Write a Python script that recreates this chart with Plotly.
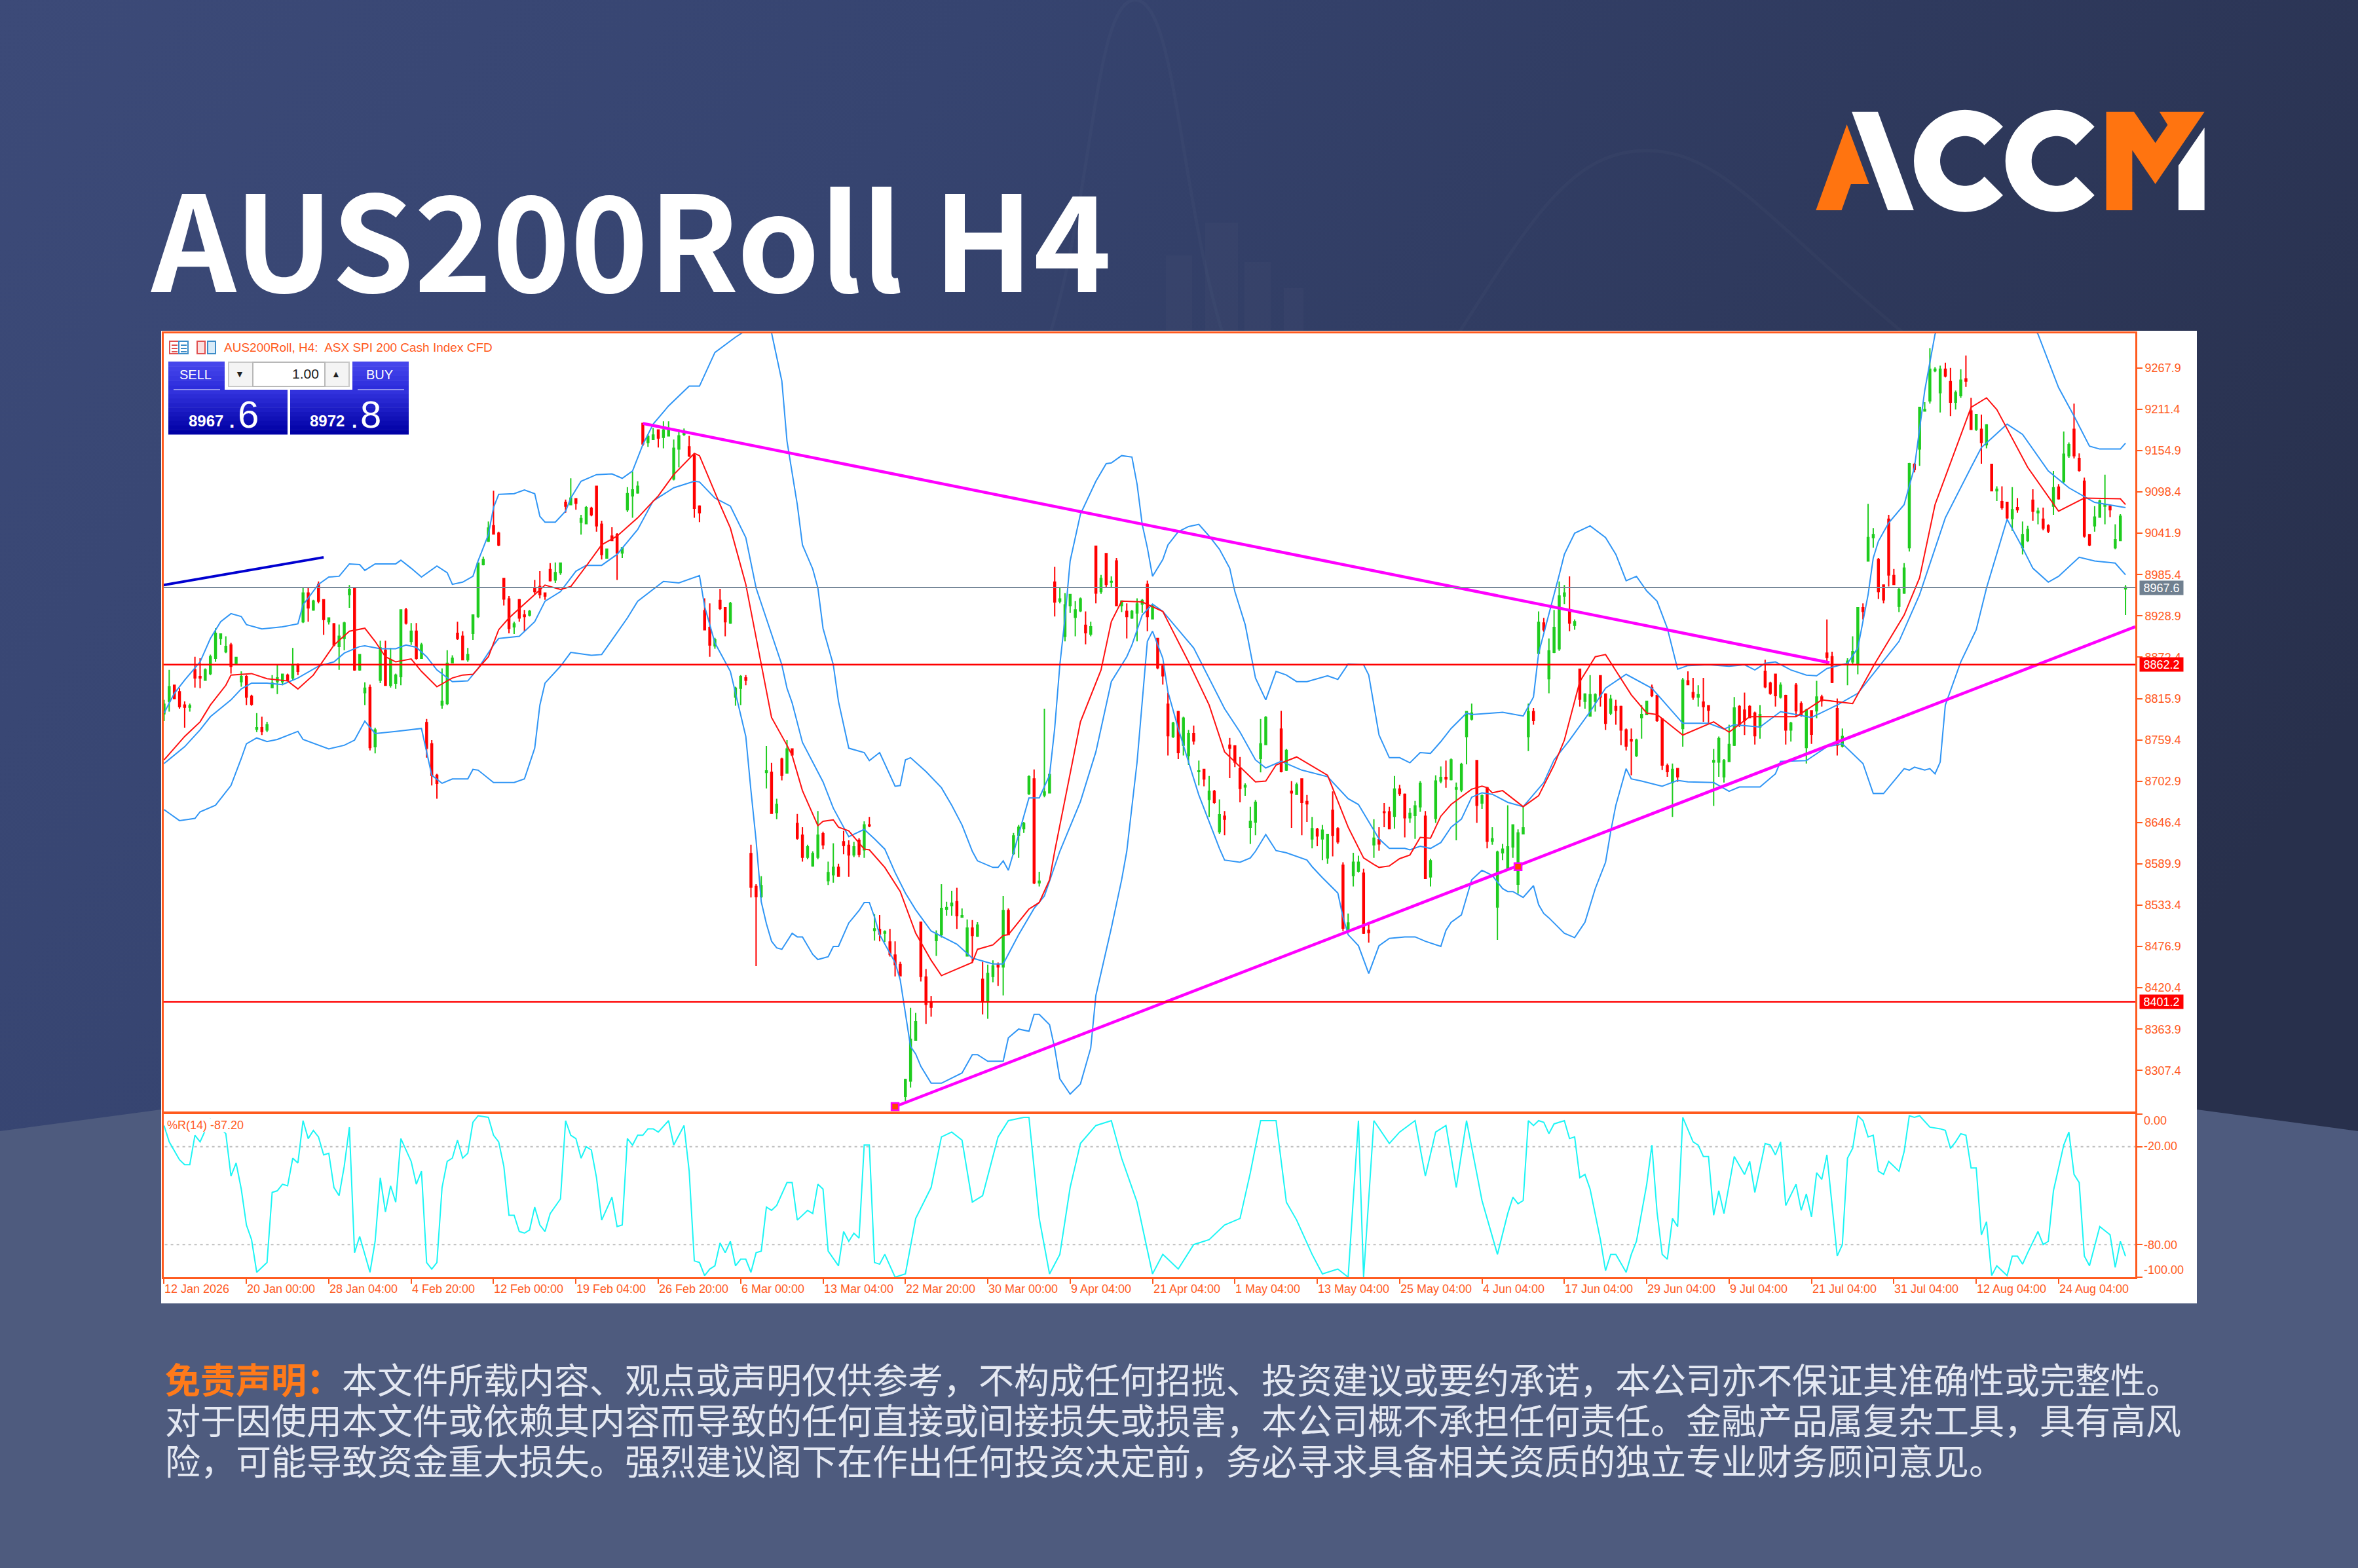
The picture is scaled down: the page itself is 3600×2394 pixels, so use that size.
import base64
import math
import plotly.graph_objects as go

W, H = 3600, 2394

# candles, 10 per row, None where the chart shows no bar
bar_open = [
    8795,8812,8834,8825,8807,8804,8855,8846,8841,8850,
    8871,8898,8880,8889,8864,8839,8846,8819,8774,8776,
    8773,8831,8839,8839,8848,8844,8862,8921,8960,8937,
    8972,8951,8921,8918,8887,8898,8958,8967,8855,8824,
    8831,8750,8841,8882,8834,8837,8846,8937,8894,8908,
    8871,8783,8754,8711,8807,8809,8865,8905,8901,8869,
    8905,8928,8999,9031,9052,9042,8980,8952,8914,8951,
    8930,8930,8966,8969,8960,8992,8978,8988,9084,9081,
    9089,9057,9055,9076,9106,9054,9008,9038,9040,9015,
    9074,9093,9097,9192,9166,9170,9183,9173,9175,9116,
    9157,9177,9160,9148,9079,8936,8913,8888,8950,8940,
    8919,8818,8830,8844,8604,8559,8545,8715,8715,8660,
    8733,8714,8747,8645,8629,8599,8587,8599,8631,8567,
    8575,8585,8620,8615,8602,8622,8609,8643,8499,8500,
    8495,8483,8465,8452,8272,8293,8349,8510,8435,8401,
    8485,8493,8528,8533,8538,8517,8464,8502,8491,8432,
    8402,8436,8452,8449,8526,8604,8629,8638,8686,8706,
    8564,8684,8687,8975,8949,8901,8943,8927,8936,8916,
    8904,9024,8962,9014,8975,9004,8943,8935,8926,8933,
    8945,8972,8925,8898,8860,8808,8764,8798,8752,8738,
    8768,8716,8719,8678,8689,8634,8655,8752,8751,8720,
    8695,8640,8647,8734,8753,None,None,8774,8718,8689,
    8685,8706,8675,8624,8637,8624,8598,8663,8638,8588,
    8501,8574,8580,8577,8499,8616,8623,8661,8661,8655,
    8692,8685,8653,8656,8668,8655,8572,8652,8703,8708,
    8705,8692,8691,8764,8788,8731,8673,8694,8621,8531,
    8605,8583,8613,8562,8631,8764,8798,8878,8919,8843,
    8879,8884,8956,8937,8916,8856,8812,8792,8812,8847,
    8822,8796,8805,8805,8773,8760,8738,8790,8794,8831,
    8820,8788,8724,8701,8720,8775,8840,8824,8818,8811,
    8806,8729,8729,8709,8730,8752,8805,8800,8805,8796,
    8777,8853,8837,8849,8818,8820,8773,8834,8809,8749,
    8799,8799,8818,8878,8873,8802,8751,8864,8866,8862,
    8940,9004,9036,9006,8971,9061,8984,8942,8960,9022,
    9136,9157,9209,9223,9264,9234,9266,9249,9221,9230,
    9253,9209,9184,9184,9163,9136,9100,9085,9084,9062,
    9077,9022,9032,9087,9070,9061,9052,9079,9105,9113,
    9148,9184,9144,9113,9040,9052,9064,9079,9079,9022,9032,8966,
]
bar_high = [
    8814,8855,8834,8830,8812,8809,8873,8871,8857,8876,
    8912,8905,8901,8892,8873,8853,8848,8821,8796,8791,
    8784,8848,8862,8850,8850,8885,8864,8967,8967,8951,
    8976,8951,8927,8919,8917,8921,8971,8968,8876,8838,
    8835,8776,8895,8895,8885,8850,8937,8940,8919,8919,
    8892,8788,8759,8713,8857,8882,8875,8921,8908,8885,
    8931,9001,9010,9058,9100,9044,8980,8956,8921,8952,
    8937,8937,8978,8990,8961,9001,9002,9002,9088,9117,
    9090,9067,9079,9078,9106,9059,9021,9050,9042,9023,
    9105,9126,9113,9193,9177,9186,9184,9195,9195,9170,
    9184,9185,9175,9151,9080,8953,8946,8899,8966,8940,
    8948,8832,8848,8848,8616,8562,8573,8751,8728,8679,
    8735,8759,8747,8658,8640,8616,8607,8662,8634,8593,
    8618,8590,8635,8622,8620,8625,8648,8654,8521,8520,
    8499,8501,8484,8456,8296,8393,8386,8510,8446,8409,
    8499,8562,8538,8553,8557,8529,8514,8513,8510,8456,
    8452,8458,8455,8546,8529,8632,8643,8647,8711,8719,
    8579,8802,8713,8996,8967,8960,8959,8949,8954,8935,
    8921,9024,8985,9014,8983,9008,8950,8946,8937,8953,
    8952,8977,8945,8899,8862,8824,8784,8799,8791,8773,
    8779,8731,8719,8710,8691,8678,8662,8762,8752,8736,
    8700,8668,8677,8788,8792,None,None,8799,8747,8703,
    8701,8706,8684,8654,8639,8643,8631,8689,8640,8592,
    8522,8605,8601,8583,8507,8651,8640,8673,8668,8710,
    8698,8686,8666,8676,8703,8662,8597,8711,8723,8731,
    8734,8701,8728,8798,8809,8731,8685,8695,8640,8608,
    8617,8670,8644,8637,8668,8809,8803,8935,8926,8898,
    8937,8976,8971,8983,8924,8856,8823,8848,8823,8848,
    8823,8821,8814,8806,8775,8775,8761,8807,8812,8835,
    8821,8789,8727,8727,8721,8844,8853,8844,8834,8844,
    8806,8747,8764,8733,8780,8818,8807,8824,8807,8798,
    8807,8869,8839,8850,8838,8821,8784,8837,8812,8802,
    8800,8840,8821,8924,8880,8816,8775,8871,8901,8940,
    8946,9082,9049,9008,8972,9067,8993,8967,9001,9138,
    9138,9214,9221,9295,9269,9271,9275,9268,9237,9266,
    9285,9227,9205,9204,9191,9137,9106,9106,9085,9105,
    9090,9058,9052,9102,9077,9077,9054,9127,9109,9181,
    9166,9219,9151,9118,9041,9079,9088,9122,9081,9054,9068,8971,
]
bar_low = [
    8785,8798,8815,8802,8776,8798,8831,8830,8840,8848,
    8866,8889,8878,8850,8863,8832,8807,8806,8770,8766,
    8770,8830,8822,8834,8840,8841,8848,8919,8921,8936,
    8946,8903,8917,8887,8855,8882,8940,8854,8854,8807,
    8745,8741,8837,8834,8831,8829,8834,8917,8889,8869,
    8870,8735,8697,8679,8802,8807,8864,8896,8869,8866,
    8896,8926,8998,9030,9040,9024,8943,8905,8904,8921,
    8908,8928,8958,8953,8951,8976,8974,8985,9070,9081,
    9074,9040,9054,9065,9044,9006,9007,9031,8978,9008,
    9071,9063,9096,9161,9160,9170,9159,9158,9175,9114,
    9132,9175,9146,9063,9057,8909,8873,8884,8937,8901,
    8918,8806,8807,8834,8544,8450,8543,8693,8658,8651,
    8704,8714,8738,8623,8593,8596,8586,8596,8610,8561,
    8564,8573,8603,8572,8599,8599,8598,8640,8485,8484,
    8483,8463,8436,8436,8264,8284,8349,8429,8371,8381,
    8464,8489,8519,8519,8501,8517,8464,8455,8490,8384,
    8378,8428,8423,8410,8493,8602,8598,8632,8684,8562,
    8559,8681,8686,8928,8946,8894,8933,8901,8934,8890,
    8901,8946,8959,8967,8967,8943,8934,8898,8925,8894,
    8933,8908,8924,8856,8835,8738,8762,8733,8738,8725,
    8753,8697,8696,8654,8672,8631,8629,8707,8722,8674,
    8683,8617,8629,8715,8752,None,None,8715,8717,8639,
    8684,8629,8647,8611,8614,8595,8590,8600,8617,8498,
    8499,8559,8578,8494,8482,8598,8608,8640,8637,8638,
    8683,8626,8646,8624,8661,8570,8559,8646,8700,8694,
    8704,8622,8688,8726,8786,8646,8665,8611,8616,8486,
    8595,8583,8598,8549,8631,8744,8780,8876,8907,8823,
    8878,8881,8945,8908,8910,8805,8802,8791,8798,8805,
    8773,8793,8780,8752,8745,8711,8736,8761,8793,8818,
    8784,8718,8709,8654,8702,8750,8834,8814,8805,8784,
    8782,8669,8709,8701,8729,8751,8777,8766,8789,8753,
    8761,8830,8821,8805,8816,8753,8757,8791,8791,8727,
    8754,8789,8805,8862,8837,8738,8749,8834,8862,8849,
    8924,9003,9022,8952,8946,8969,8972,8934,8959,9017,
    9125,9134,9209,9219,9262,9207,9255,9202,9211,9227,
    9242,9184,9182,9137,9158,9099,9086,9074,9061,9045,
    9070,9013,9030,9059,9054,9046,9042,9067,9088,9111,
    9145,9144,9126,9036,9024,9044,9063,9054,9064,9020,9031,8930,
]
bar_close = [
    8808,8832,8816,8805,8804,8806,8844,8844,8855,8873,
    8905,8904,8887,8860,8872,8846,8818,8808,8776,8771,
    8780,8837,8844,8849,8841,8862,8853,8960,8940,8949,
    8949,8924,8926,8889,8901,8919,8965,8855,8876,8830,
    8749,8773,8885,8834,8869,8848,8937,8919,8908,8871,
    8889,8748,8711,8700,8812,8864,8871,8898,8869,8876,
    8930,9001,9006,9049,9041,9026,8952,8912,8918,8926,
    8928,8935,8962,8958,8956,8977,8988,9001,9079,9090,
    9083,9062,9077,9067,9052,9013,9020,9032,9015,9022,
    9096,9101,9106,9164,9174,9176,9172,9183,9185,9158,
    9175,9179,9148,9076,9070,8910,8889,8896,8939,8921,
    8946,8830,8846,8841,8558,8545,8560,8717,8659,8671,
    8711,8747,8739,8625,8599,8613,8604,8629,8616,8578,
    8585,8573,8615,8602,8613,8603,8643,8642,8501,8494,
    8497,8466,8452,8437,8295,8350,8374,8436,8398,8394,
    8494,8529,8530,8536,8519,8519,8502,8492,8506,8402,
    8440,8450,8449,8526,8493,8628,8640,8645,8709,8564,
    8566,8688,8712,8948,8952,8944,8958,8937,8952,8906,
    8914,8960,8980,8972,8976,8943,8949,8928,8935,8945,
    8950,8928,8942,8858,8847,8765,8782,8742,8789,8768,
    8758,8717,8706,8689,8674,8657,8651,8748,8729,8693,
    8697,8648,8674,8754,8790,None,None,8716,8745,8687,
    8698,8674,8672,8638,8628,8636,8630,8629,8620,8502,
    8509,8592,8592,8495,8496,8625,8617,8660,8638,8692,
    8686,8653,8659,8669,8700,8570,8594,8703,8708,8706,
    8732,8694,8726,8798,8796,8670,8683,8621,8624,8606,
    8610,8613,8643,8632,8639,8798,8786,8920,8910,8881,
    8913,8956,8960,8919,8921,8815,8822,8821,8821,8818,
    8782,8815,8800,8773,8751,8758,8759,8794,8812,8820,
    8786,8725,8716,8719,8709,8841,8835,8818,8821,8805,
    8800,8731,8761,8731,8753,8803,8780,8786,8790,8765,
    8794,8832,8823,8820,8834,8773,8782,8799,8793,8800,
    8767,8818,8813,8872,8838,8752,8764,8867,8880,8940,
    8935,9036,9040,8962,8951,8985,8972,8965,8994,9137,
    9129,9214,9211,9266,9266,9266,9257,9221,9234,9251,
    9250,9184,9204,9166,9190,9100,9102,9077,9063,9074,
    9074,9040,9047,9072,9072,9049,9045,9104,9089,9150,
    9163,9148,9128,9038,9026,9064,9086,9081,9074,9033,9065,8968,
]

# indicators, bar number + value at each bend
upper_bar = [0,2,4,7,9,11,13,15,16,19,23,26,27,30,32,34,36,38,39,41,45,46,48,50,53,55,56,58,60,61,63,64,65,68,70,72,73,74,76,78,79,81,84,87,89,91,93,95,98,102,104,107,111,113,115,116,117,118,120,121,123,124,126,127,128,130,131,133,136,137,139,140,142,143,144,145,148,151,153,155,157,158,161,162,163,164,165,168,170,172,173,174,175,176,178,181,183,184,186,188,189,190,191,192,194,195,197,199,201,203,205,207,208,210,211,212,214,216,218,220,222,226,228,230,233,234,236,238,240,242,244,246,248,250,253,254,260,264,266,267,271,272,274,277,280,282,284,286,288,290,292,294,296,300,304,307,309,311,313,316,319,321,323,327,329,331,332,333,335,338,340,342,344,348,356,361,364,366,368,371,374,376,380,381]
upper_val = [8796,8823,8841,8866,8898,8921,8932,8928,8917,8911,8914,8918,8944,8972,8982,8983,9000,8999,8991,9000,9000,9005,8994,8982,8997,8988,8972,8975,8983,9004,9040,9077,9095,9096,9101,9096,9065,9057,9057,9072,9090,9113,9122,9123,9117,9127,9163,9191,9216,9243,9243,9289,9310,9319,9340,9345,9335,9316,9250,9168,9081,9026,8993,8967,8912,8862,8812,8748,8742,8731,8742,8727,8696,8697,8732,8735,8716,8694,8670,8643,8607,8594,8585,8585,8594,8581,8605,8680,8680,8711,8775,8862,8926,9004,9068,9113,9137,9138,9148,9146,9109,9054,9022,8983,9006,9026,9044,9051,9054,9038,9020,8994,8962,8917,8880,8844,8814,8853,8848,8839,8839,8847,8842,8863,8862,8848,8766,8735,8735,8728,8742,8741,8757,8775,8796,8794,8797,8792,8818,8878,8985,9013,9042,9052,9036,9013,8977,8983,8963,8949,8912,8856,8861,8862,8860,8862,8855,8864,8866,8855,8848,8847,8857,8864,8885,8958,9008,9031,9056,9081,9132,9237,9314,9360,9375,9345,9314,9278,9241,9202,9161,9157,9157,9165]

middle_bar = [0,4,7,9,13,15,17,20,23,26,30,33,35,38,39,42,45,47,49,51,53,56,59,61,64,65,69,72,74,77,80,82,85,88,92,95,99,103,104,107,110,113,115,120,121,122,124,128,130,133,136,138,140,142,144,146,149,154,157,161,163,166,169,171,174,178,181,184,187,188,190,192,194,197,200,206,209,212,214,217,221,226,230,232,236,238,241,242,244,246,248,250,252,254,256,258,261,264,266,268,270,273,277,280,284,289,295,300,303,305,310,314,320,325,329,337,341,346,351,353,358,361,366,370,375,381]
middle_val = [8727,8750,8773,8791,8814,8829,8837,8837,8835,8844,8860,8866,8878,8887,8888,8884,8884,8889,8886,8873,8855,8839,8840,8857,8889,8898,8901,8921,8949,8962,8990,8998,8998,9013,9047,9086,9104,9113,9112,9090,9079,9036,8967,8862,8830,8810,8756,8702,8666,8627,8637,8624,8610,8578,8550,8527,8498,8480,8461,8453,8453,8493,8529,8546,8607,8675,8743,8839,8873,8889,8930,8945,8935,8910,8885,8802,8770,8732,8721,8730,8718,8709,8679,8671,8624,8611,8611,8609,8614,8611,8619,8640,8651,8681,8687,8685,8674,8668,8685,8701,8732,8759,8798,8830,8849,8830,8782,8782,8774,8780,8777,8798,8790,8807,8823,8894,8958,9063,9132,9159,9191,9177,9127,9104,9084,9077]

lower_bar = [0,3,6,7,10,13,15,16,18,20,22,26,27,32,35,37,39,41,45,50,52,54,56,59,60,61,64,68,70,72,73,74,77,79,83,85,87,90,92,95,97,100,104,105,107,110,112,113,114,115,116,117,118,119,120,121,122,123,124,126,127,129,130,131,133,135,136,137,138,139,141,142,143,144,145,146,147,149,151,155,157,158,160,163,164,166,168,169,170,172,173,174,176,178,180,181,184,186,187,189,190,191,192,194,195,197,199,201,205,206,209,211,212,214,216,218,222,223,225,228,229,230,232,234,236,238,241,243,245,248,249,250,252,253,254,256,258,260,261,262,264,266,267,268,269,272,274,276,278,280,281,282,284,285,287,291,294,296,301,304,306,310,313,314,319,323,326,330,332,334,338,339,340,342,343,344,345,346,349,352,354,358,361,363,366,368,372,375,379,381]
lower_val = [8664,8649,8652,8661,8670,8697,8734,8754,8762,8757,8760,8771,8760,8747,8752,8759,8785,8768,8771,8775,8711,8700,8706,8706,8719,8718,8701,8701,8706,8748,8807,8837,8860,8879,8875,8876,8896,8926,8949,8965,8976,8974,8984,8942,8892,8853,8792,8764,8690,8622,8538,8508,8484,8475,8473,8484,8495,8490,8490,8466,8459,8463,8477,8477,8509,8526,8537,8537,8517,8493,8468,8455,8431,8385,8340,8330,8313,8290,8290,8304,8329,8329,8320,8320,8352,8364,8361,8384,8384,8370,8338,8296,8275,8289,8338,8410,8502,8568,8607,8729,8812,8894,8908,8871,8825,8775,8729,8684,8611,8595,8592,8598,8607,8630,8608,8605,8595,8586,8571,8550,8517,8493,8478,8440,8478,8488,8490,8490,8484,8477,8499,8510,8520,8544,8568,8581,8574,8556,8552,8552,8544,8560,8534,8522,8516,8495,8489,8510,8556,8592,8634,8670,8720,8706,8703,8696,8704,8702,8701,8689,8695,8695,8713,8730,8731,8750,8754,8727,8686,8686,8720,8718,8722,8718,8720,8713,8729,8807,8866,8910,8967,9061,9022,8994,8975,8983,9009,9004,9001,8985]

ma_bar = [0,4,7,9,12,13,17,20,24,26,29,33,36,39,41,43,45,48,50,53,56,58,60,63,65,67,72,74,77,79,82,85,88,92,96,99,103,104,108,110,113,116,118,121,122,124,127,128,130,131,133,136,137,140,143,146,149,151,157,158,161,163,164,168,170,172,173,178,182,184,186,190,194,199,203,206,212,214,216,220,226,230,233,235,236,238,240,242,244,246,248,250,254,256,257,258,260,264,267,270,272,275,278,280,285,288,290,295,301,304,308,317,322,328,332,338,341,344,351,354,356,362,368,373,380,381]
ma_val = [8732,8764,8784,8807,8834,8848,8850,8843,8840,8829,8848,8889,8908,8912,8894,8873,8866,8870,8853,8832,8844,8848,8849,8873,8910,8926,8958,8971,8965,8969,8997,9026,9038,9063,9093,9122,9151,9148,9081,9049,8972,8862,8790,8752,8738,8690,8642,8648,8650,8640,8635,8610,8609,8585,8552,8495,8458,8437,8455,8473,8479,8492,8493,8528,8537,8568,8607,8784,8855,8921,8949,8948,8935,8866,8807,8743,8702,8703,8725,8736,8711,8640,8598,8589,8585,8587,8597,8602,8626,8625,8655,8671,8692,8696,8694,8687,8690,8668,8683,8725,8759,8839,8873,8876,8821,8796,8794,8766,8784,8770,8791,8791,8814,8809,8860,8930,8981,9081,9214,9227,9211,9132,9072,9090,9089,9081]

wpr_bar = [0,1,3,4,5,6,7,9,12,13,14,15,16,17,18,20,21,22,23,24,25,26,27,28,29,30,31,32,33,34,35,36,37,38,40,41,42,43,44,45,46,48,49,50,51,52,53,54,55,56,57,58,59,60,61,63,64,65,66,67,68,69,70,71,72,73,74,75,77,78,79,80,81,82,83,84,85,87,88,89,90,91,92,93,94,95,96,98,99,101,102,103,104,105,106,107,108,109,110,111,112,113,114,115,116,117,118,119,121,122,123,125,126,127,128,129,131,132,133,134,135,136,137,138,139,
           140,142,144,146,149,151,153,155,157,159,162,164,167,168,170,172,174,176,178,181,184,186,189,192,194,197,200,203,206,209,211,213,216,218,220,223,225,228,230,232,233,235,238,240,243,245,247,249,251,253,256,259,
           261,262,263,264,265,266,267,268,269,270,272,273,274,275,276,277,279,280,281,282,284,285,286,288,289,290,291,292,293,294,295,297,298,299,300,301,302,303,305,307,308,309,311,312,313,314,315,317,318,319,320,321,322,323,325,326,327,328,329,330,331,332,333,334,335,337,338,339,340,341,343,345,346,347,348,349,350,351,352,353,354,355,356,358,359,360,361,362,364,365,366,367,368,369,370,371,372,373,374,376,378,379,380,381]
wpr_val = [-7,-17,-28,-31,-31,-13,-17,-3,-12,-38,-30,-46,-68,-77,-97,-91,-48,-47,-43,-44,-27,-30,-4,-15,-10,-14,-25,-24,-45,-50,-32,-8,-85,-75,-97,-78,-39,-60,-44,-54,-15,-29,-43,-35,-91,-95,-91,-45,-29,-27,-16,-27,-24,-5,-1,-2,-13,-17,-32,-62,-62,-72,-73,-71,-57,-68,-72,-61,-52,-4,-13,-15,-27,-20,-22,-39,-65,-51,-69,-68,-15,-19,-13,-13,-9,-9,-11,-4,-19,-7,-35,-90,-91,-99,-95,-93,-79,-85,-78,-93,-89,-89,-97,-85,-84,-57,-59,-56,-42,-42,-65,-59,-61,-43,-46,-84,-93,-72,-78,-73,-76,-19,-19,-91,-92,
           -86,-100,-98,-64,-45,-14,-11,-16,-54,-50,-14,-4,-2,-2,-64,-98,-86,-45,-18,-7,-4,-27,-54,-98,-86,-95,-80,-77,-68,-64,-36,-4,-4,-54,-65,-86,-98,-95,-100,-4,-100,-4,-18,-11,-4,-38,-11,-7,-45,-4,-53,-86,
           -61,-51,-55,-53,-4,-7,-4,-5,-12,-6,-4,-15,-14,-39,-37,-46,-77,-96,-86,-86,-97,-86,-78,-43,-19,-60,-86,-89,-64,-69,-2,-17,-19,-26,-26,-62,-47,-61,-26,-37,-29,-48,-18,-19,-25,-17,-56,-43,-59,-49,-63,-36,-40,-25,-87,-80,-27,-21,-1,-4,-14,-13,-35,-37,-29,-35,-23,-1,-2,-1,-8,-9,-10,-21,-17,-12,-13,-33,-33,-74,-66,-99,-93,-99,-87,-87,-92,-85,-72,-80,-78,-47,-33,-19,-11,-37,-42,-87,-93,-69,-74,-94,-78,-87.2]

# horizontal price levels
bid_level = 8967.6
red_levels = [8862.2, 8401.2]

# drawn trend lines: bar number and price at both ends
falling_bar, falling_val = [93, 323.5], [9192, 8865]
rising_bar, rising_val = [142, 382.9], [8258, 8914]
blue_bar, blue_val = [-0.1, 31], [8971, 9009]
anchor_bar, anchor_val = [142, 263], [8258, 8586]

price_ticks = [9267.9,9211.4,9154.9,9098.4,9041.9,8985.4,8928.9,8872.4,8815.9,8759.4,8702.9,8646.4,8589.9,8533.4,8476.9,8420.4,8363.9,8307.4]
wpr_ticks = [0, -20, -80, -100]
wpr_tick_text = ["0.00", "-20.00", "-80.00", "-100.00"]
time_ticks = list(range(0, 369, 16))
time_labels = ["12 Jan 2026","20 Jan 00:00","28 Jan 04:00","4 Feb 20:00","12 Feb 00:00","19 Feb 04:00","26 Feb 20:00","6 Mar 00:00","13 Mar 04:00","22 Mar 20:00","30 Mar 00:00","9 Apr 04:00","21 Apr 04:00","1 May 04:00","13 May 04:00","25 May 04:00","4 Jun 04:00","17 Jun 04:00","29 Jun 04:00","9 Jul 04:00","21 Jul 04:00","31 Jul 04:00","12 Aug 04:00","24 Aug 04:00"]

disclaimer = [
    '<b><span style="color:#FF7A1A">免责声明：</span></b>本文件所载内容、观点或声明仅供参考，不构成任何招揽、投资建议或要约承诺，本公司亦不保证其准确性或完整性。',
    "对于因使用本文件或依赖其内容而导致的任何直接或间接损失或损害，本公司概不承担任何责任。金融产品属复杂工具，具有高风",
    "险，可能导致资金重大损失。强烈建议阁下在作出任何投资决定前，务必寻求具备相关资质的独立专业财务顾问意见。",
]

ORANGE = "#FF5A1E"
TXT = "Liberation Sans"


def px(x):
    return x / W


def py(y):
    return 1 - y / H


def rect(x0, y0, x1, y1, fill, line=None, lw=0, layer="above"):
    return dict(type="rect", xref="paper", yref="paper", x0=px(x0), x1=px(x1), y0=py(y0), y1=py(y1),
                fillcolor=fill, line=dict(color=line or fill, width=lw), layer=layer)


def poly(points, fill, layer="above"):
    d = "M" + " L".join(f"{px(a):.5f},{py(b):.5f}" for a, b in points) + " Z"
    return dict(type="path", xref="paper", yref="paper", path=d, fillcolor=fill, line=dict(width=0), layer=layer)


def note(text, x, y, size, color="white", anchor="left", font=TXT, **kw):
    return dict(text=text, xref="paper", yref="paper", x=px(x), y=py(y), xanchor=anchor, yanchor="middle",
                showarrow=False, font=dict(family=font, size=size, color=color), **kw)


def gradient_rect(x0, y0, x1, y1, top, bottom, steps=10):
    out = []
    h = (y1 - y0) / steps
    for k in range(steps):
        t = k / (steps - 1)
        c = [round(top[n] + (bottom[n] - top[n]) * t) for n in range(3)]
        out.append(rect(x0, y0 + k * h, x1, y0 + (k + 1) * h + 0.5, f"rgb({c[0]},{c[1]},{c[2]})"))
    return out


def logo_c(cx, cy):
    pts = []
    for a in range(42, 319, 6):
        pts.append((cx + 78 * math.cos(math.radians(a)), cy - 78 * math.sin(math.radians(a))))
    for a in range(321, 38, -6):
        pts.append((cx + 38 * math.cos(math.radians(a)), cy - 38 * math.sin(math.radians(a))))
    return pts


def logo_xy(rows):
    return [(2700 + a / 2.24, 120 + b / 3) for a, b in rows]


# page background
svg = f"""<svg xmlns="http://www.w3.org/2000/svg" width="{W}" height="{H}" viewBox="0 0 {W} {H}">
<defs><linearGradient id="g" x1="0" y1="0" x2="1" y2="0.45">
<stop offset="0" stop-color="#3C4A78"/><stop offset="0.35" stop-color="#364470"/><stop offset="1" stop-color="#28304C"/>
</linearGradient></defs>
<rect width="{W}" height="{H}" fill="url(#g)"/>
<g fill="none" stroke="#FFFFFF" stroke-opacity="0.025" stroke-width="5">
<path d="M1600,520 C1670,300 1670,0 1733,0 C1796,0 1800,300 1870,520"/>
<path d="M2220,520 C2340,330 2400,230 2514,230 C2630,230 2700,340 2920,520"/>
</g>
<g fill="#FFFFFF" fill-opacity="0.018">
<rect x="1780" y="390" width="40" height="120"/><rect x="1840" y="340" width="50" height="170"/>
<rect x="1900" y="400" width="40" height="110"/><rect x="1960" y="440" width="30" height="70"/>
</g></svg>"""
bg_uri = "data:image/svg+xml;base64," + base64.b64encode(svg.encode()).decode()

shapes = [
    poly([(0, 1727), (246, 1694), (3354, 1694), (3600, 1727), (3600, H), (0, H)], "#4E5B7E", layer="below"),
    rect(246, 505, 3354, 1990, "white", layer="below"),
]

# logo
shapes += [
    poly(logo_xy([(162, 603), (268, 210), (344, 483), (282, 483), (250, 603)]), "#FF7410"),
    poly(logo_xy([(285, 152), (374, 152), (497, 603), (408, 603)]), "white"),
    poly(logo_c(3000, 245.7), "white"),
    poly(logo_c(3139.7, 245.7), "white"),
    poly(logo_xy([(1155, 152), (1250, 152), (1323, 295), (1365, 212), (1337, 152), (1491, 152), (1323, 483), (1244, 328), (1244, 603), (1155, 603)]), "#FF7410"),
    poly(logo_xy([(1491, 224), (1491, 603), (1402, 603), (1402, 398)]), "white"),
]

# one-click trading panel
shapes += gradient_rect(257, 552, 343, 596, (70, 70, 235), (45, 45, 220), 6)
shapes += gradient_rect(538, 552, 624, 596, (70, 70, 235), (45, 45, 220), 6)
shapes += gradient_rect(257, 595, 439, 663, (50, 50, 220), (0, 0, 165))
shapes += gradient_rect(443, 595, 624, 663, (50, 50, 220), (0, 0, 165))
shapes += [
    rect(265, 594, 336, 595.5, "#9C9CF0"), rect(546, 594, 617, 595.5, "#9C9CF0"),
    rect(349, 553, 533, 590, "#F4F4F4", "#C8C8C8", 2),
    rect(386, 553, 496, 590, "white", "#B8B8B8", 2),
    # header icons
    rect(259, 521, 273, 540, "white", "#E05050", 2), rect(273, 521, 287, 540, "white", "#3C8CC8", 2),
    rect(301, 521, 313, 540, "#FBE0E0", "#E05050", 2), rect(317, 521, 329, 540, "#D8EBF8", "#3C8CC8", 2),
    rect(262, 526, 271, 528, "#E05050"), rect(262, 531, 271, 533, "#E05050"), rect(262, 536, 271, 538, "#E05050"),
    rect(276, 526, 285, 528, "#3C8CC8"), rect(276, 531, 285, 533, "#3C8CC8"), rect(276, 536, 285, 538, "#3C8CC8"),
]

# horizontal levels and the WPR dotted levels
shapes.append(dict(type="line", xref="x", yref="y", x0=-1, x1=383, y0=bid_level, y1=bid_level,
                   line=dict(color="#778899", width=2), layer="above"))
for lv in red_levels:
    shapes.append(dict(type="line", xref="x", yref="y", x0=-1, x1=383, y0=lv, y1=lv,
                       line=dict(color="#FF0000", width=2.5), layer="above"))
for lv in [-20, -80]:
    shapes.append(dict(type="line", xref="x2", yref="y2", x0=-1, x1=383, y0=lv, y1=lv,
                       line=dict(color="#C0C0C0", width=2, dash="4px,5px"), layer="below"))

ann = [
    note("<b>AUS200Roll H4</b>", 228, 358, 202, font="Noto Sans CJK SC"),
    note("AUS200Roll, H4:  ASX SPI 200 Cash Index CFD", 340, 530, 19, ORANGE),
    note("SELL", 298, 572, 20, anchor="center"),
    note("BUY", 579, 572, 20, anchor="center"),
    note("1.00", 489, 571, 21, "#202020", anchor="right"),
    note("▼", 366, 571, 14, "#202020", anchor="center"),
    note("▲", 513, 571, 14, "#202020", anchor="center"),
    note("<b>8967</b>", 286, 642, 24),
    note("<b>.</b>", 348, 642, 30),
    note("6", 361, 632, 58),
    note("<b>8972</b>", 471, 642, 24),
    note("<b>.</b>", 535, 642, 30),
    note("8", 548, 632, 58),
    dict(text="%R(14) -87.20", xref="paper", yref="paper", x=px(254), y=py(1718), xanchor="left", yanchor="middle",
         showarrow=False, bgcolor="white", borderpad=0, font=dict(family=TXT, size=18, color=ORANGE)),
]
for k, line in enumerate(disclaimer):
    ann.append(note(line, 250, 2104 + 62 * k, 54, "#E4E8F2", font="Noto Sans CJK SC"))

# price tags on the right axis
for lv, col in [(bid_level, "#708090"), (red_levels[0], "#FF0000"), (red_levels[1], "#FF0000")]:
    ann.append(dict(text=f"{lv:.1f}", xref="paper", yref="y", x=px(3266), y=lv, xanchor="left", yanchor="middle",
                    width=66, height=21, bgcolor=col, showarrow=False, borderpad=0,
                    font=dict(family=TXT, size=18, color="white")))

# time labels start at their tick, MT5 style
for t, lab in zip(time_ticks, time_labels):
    ann.append(dict(text=lab, xref="x2", yref="paper", x=t, y=py(1968), xanchor="left", yanchor="middle",
                    xshift=-1, showarrow=False, font=dict(family=TXT, size=18, color=ORANGE)))

# WPR scale labels sit inside the panel height
for txt, y in zip(wpr_tick_text, [1711, 1750, 1901, 1939]):
    ann.append(note(txt, 3271, y, 18, ORANGE))

fig = go.Figure()
fig.add_trace(go.Candlestick(
    x=list(range(len(bar_open))), open=bar_open, high=bar_high, low=bar_low, close=bar_close,
    increasing=dict(line=dict(color="#1FCC1F", width=2), fillcolor="#1FCC1F"),
    decreasing=dict(line=dict(color="#FF0000", width=2), fillcolor="#FF0000"),
    whiskerwidth=0, xaxis="x", yaxis="y",
))
for xs, ys, col in [(upper_bar, upper_val, "#2F95F5"), (middle_bar, middle_val, "#2F95F5"),
                    (lower_bar, lower_val, "#2F95F5"), (ma_bar, ma_val, "#FF1010")]:
    fig.add_trace(go.Scatter(x=xs, y=ys, mode="lines", line=dict(color=col, width=2), xaxis="x", yaxis="y"))
fig.add_trace(go.Scatter(x=blue_bar, y=blue_val, mode="lines", line=dict(color="#0000D0", width=4), xaxis="x", yaxis="y"))
for xs, ys in [(falling_bar, falling_val), (rising_bar, rising_val)]:
    fig.add_trace(go.Scatter(x=xs, y=ys, mode="lines", line=dict(color="#FF00FF", width=4.5), xaxis="x", yaxis="y"))
fig.add_trace(go.Scatter(x=anchor_bar, y=anchor_val, mode="markers", xaxis="x", yaxis="y",
                         marker=dict(symbol="square", size=11, color="#FF4500", line=dict(color="#FF00FF", width=2.5))))
fig.add_trace(go.Scatter(x=wpr_bar, y=wpr_val, mode="lines", line=dict(color="#1CF5F5", width=2), xaxis="x2", yaxis="y2"))

axis_line = dict(showline=True, linecolor=ORANGE, linewidth=3, mirror=True, showgrid=False, zeroline=False)
xdom = [px(249.6), px(3260)]
fig.update_layout(
    width=W, height=H, showlegend=False, margin=dict(l=0, r=0, t=0, b=0),
    paper_bgcolor="#2E3858", plot_bgcolor="white", boxgap=0.55, hovermode=False,
    images=[dict(source=bg_uri, xref="paper", yref="paper", x=0, y=1, sizex=1, sizey=1,
                 sizing="stretch", xanchor="left", yanchor="top", layer="below")],
    xaxis=dict(domain=xdom, range=[-0.11, 382.9], anchor="y", showticklabels=False, ticks="",
               rangeslider=dict(visible=False), **axis_line),
    yaxis=dict(domain=[py(1697), py(508.7)], range=[8251.3, 9315.4], side="right", anchor="x",
               tickvals=price_ticks, ticktext=[f"{v:.1f}" for v in price_ticks], ticks="outside", ticklen=8,
               tickwidth=2, tickcolor=ORANGE, tickfont=dict(family=TXT, size=18, color=ORANGE), **axis_line),
    xaxis2=dict(domain=xdom, range=[-0.11, 382.9], anchor="y2", showticklabels=False, ticks="outside",
                tickvals=time_ticks, ticklen=7, tickwidth=2, tickcolor=ORANGE, **axis_line),
    yaxis2=dict(domain=[py(1950), py(1701)], range=[-100, 0], side="right", anchor="x2", showticklabels=False,
                tickvals=wpr_ticks, ticks="outside", ticklen=8, tickwidth=2, tickcolor=ORANGE, **axis_line),
    shapes=shapes, annotations=ann,
)

# the page's default body margin would shift the whole picture
fig.write_html("out.html", config={"displayModeBar": False},
               post_script="document.body.style.margin='0';document.documentElement.style.overflow='hidden';")
